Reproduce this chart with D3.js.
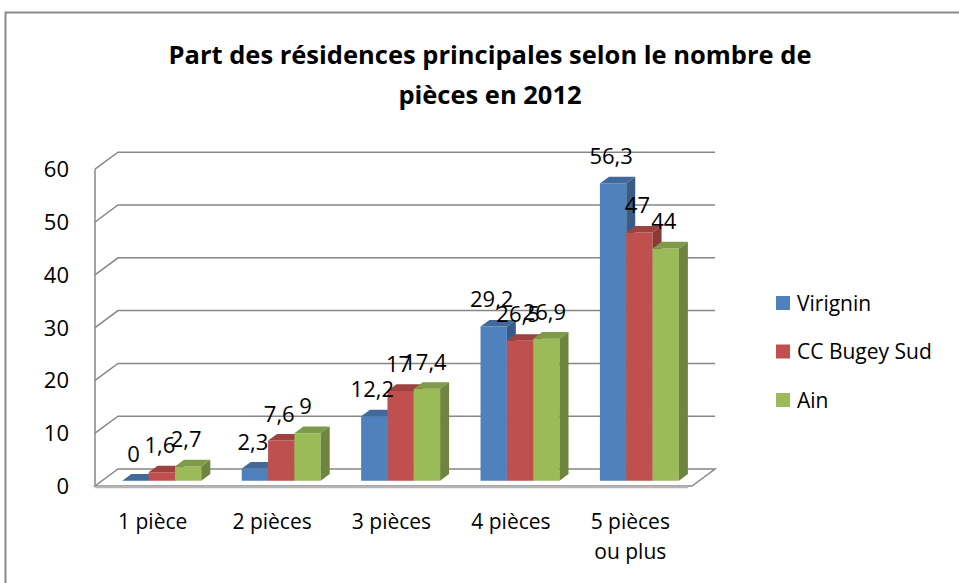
<!DOCTYPE html>
<html lang="fr">
<head>
<meta charset="UTF-8">
<title>Part des résidences principales selon le nombre de pièces en 2012</title>
<script src="https://d3js.org/d3.v7.min.js"></script>
<style>
    body { margin: 0; background: #fff; }
    svg { display: block; font-family: 'Open Sans', sans-serif; }
</style>
</head>
<body>
<div id="chart"></div>
<script>
const categories = ["1 pièce", "2 pièces", "3 pièces", "4 pièces", "5 pièces ou plus"];
const seriesNames = ["Virignin", "CC Bugey Sud", "Ain"];
const virignin = [0, 2.3, 12.2, 29.2, 56.3];
const ccBugeySud = [1.6, 7.6, 17, 26.5, 47];
const ain = [2.7, 9, 17.4, 26.9, 44];
const yTicks = [0, 10, 20, 30, 40, 50, 60];
const colors = ["#4F81BD", "#C0504D", "#9BBB59"];

const width = 959, height = 583;
const series = [virignin, ccBugeySud, ain];

// depth projection: one unit of depth = 23px right, 17px up
const depthX = 23, depthY = -17;
const barD0 = 0.31, barD1 = 0.70;

const svg = d3.select("#chart").append("svg")
    .attr("width", width).attr("height", height);

svg.append("rect")
    .attr("x", 5.5).attr("y", 12.5)
    .attr("width", 1000).attr("height", 700)
    .attr("fill", "#fff").attr("stroke", "#8a8a8a").attr("stroke-width", 2);

// title
const title = svg.append("text")
    .attr("text-anchor", "middle")
    .attr("font-weight", "bold")
    .attr("font-size", 25.5)
    .attr("fill", "#000");
title.append("tspan").attr("x", 490).attr("y", 64).text("Part des résidences principales selon le nombre de");
title.append("tspan").attr("x", 490).attr("y", 104).text("pièces en 2012");

const y = d3.scaleLinear().domain([0, 60]).range([486, 169.2]);
const x0 = d3.scaleBand().domain(categories).range([95, 692]);
const x1 = d3.scaleBand().domain(seriesNames).range([20.2, x0.bandwidth() - 20.2]);

const proj = (px, v, d) => [px + d * depthX, y(v) + d * depthY];
const pts = arr => arr.map(p => p.join(",")).join(" ");

// walls and gridlines
const grid = svg.append("g").attr("stroke", "#878787").attr("stroke-width", 1.5).attr("fill", "none");
const [fx0, fx1] = x0.range();

// floor
grid.append("polygon")
    .attr("points", pts([proj(fx0, 0, 0), proj(fx1, 0, 0), proj(fx1, 0, 1), proj(fx0, 0, 1)]))
    .attr("fill", "#fff");
grid.append("line")
    .attr("x1", fx0).attr("x2", fx1 - 4).attr("y1", y(0) + 1).attr("y2", y(0) + 1)
    .attr("stroke", "#b5b5b5").attr("stroke-width", 2.5);

yTicks.filter(t => t > 0).forEach(t => {
    grid.append("polyline")
        .attr("points", pts([proj(fx0, t, 0), proj(fx0, t, 1), proj(fx1, t, 1)]));
});
grid.append("line")
    .attr("x1", fx0).attr("x2", fx0)
    .attr("y1", y(60)).attr("y2", y(0));

// y tick labels
svg.append("g").selectAll("text")
    .data(yTicks).join("text")
    .attr("x", 69).attr("y", d => y(d))
    .attr("dy", "0.36em")
    .attr("text-anchor", "end")
    .attr("font-size", 22)
    .attr("fill", "#000")
    .text(d => d);

// category labels
const catLabels = svg.append("g").selectAll("text")
    .data(categories).join("text")
    .attr("text-anchor", "middle")
    .attr("font-size", 21)
    .attr("fill", "#000");
catLabels.each(function(d) {
    const cx = x0(d) + x0.bandwidth() / 2 - 2;
    const lines = d === "5 pièces ou plus" ? ["5 pièces", "ou plus"] : [d];
    lines.forEach((l, i) => {
        d3.select(this).append("tspan")
            .attr("x", cx).attr("y", 529 + i * 30).text(l);
    });
});

// bars
const bars = svg.append("g");
categories.forEach((c, ci) => {
    seriesNames.forEach((s, si) => {
        const v = series[si][ci];
        const left = x0(c) + x1(s), right = left + x1.bandwidth();
        const col = d3.color(colors[si]);
        const g = bars.append("g");
        // front
        g.append("polygon")
            .attr("points", pts([proj(left, 0, barD0), proj(right, 0, barD0), proj(right, v, barD0), proj(left, v, barD0)]))
            .attr("fill", col);
        // top
        g.append("polygon")
            .attr("points", pts([proj(left, v, barD0), proj(right, v, barD0), proj(right, v, barD1), proj(left, v, barD1)]))
            .attr("fill", col.darker(0.55));
        // side
        g.append("polygon")
            .attr("points", pts([proj(right, 0, barD0), proj(right, 0, barD1), proj(right, v, barD1), proj(right, v, barD0)]))
            .attr("fill", col.darker(0.95));
    });
});

// data labels
const labels = svg.append("g");
categories.forEach((c, ci) => {
    seriesNames.forEach((s, si) => {
        const v = series[si][ci];
        const [px, py] = proj(x0(c) + x1(s) + x1.bandwidth() / 2, v, barD0);
        labels.append("text")
            .attr("x", px - 2).attr("y", py - 27)
            .attr("dy", "0.36em")
            .attr("text-anchor", "middle")
            .attr("font-size", 22)
            .attr("fill", "#000")
            .text(String(v).replace(".", ","));
    });
});

// legend
const legend = svg.append("g").selectAll("g")
    .data(seriesNames).join("g")
    .attr("transform", (d, i) => `translate(776, ${303 + i * 48.5})`);
legend.append("rect")
    .attr("x", 0).attr("y", -7).attr("width", 14).attr("height", 14)
    .attr("fill", (d, i) => colors[i]);
legend.append("text")
    .attr("x", 21).attr("y", 0).attr("dy", "0.36em")
    .attr("font-size", 21)
    .attr("fill", "#000")
    .text(d => d);
</script>
</body>
</html>
